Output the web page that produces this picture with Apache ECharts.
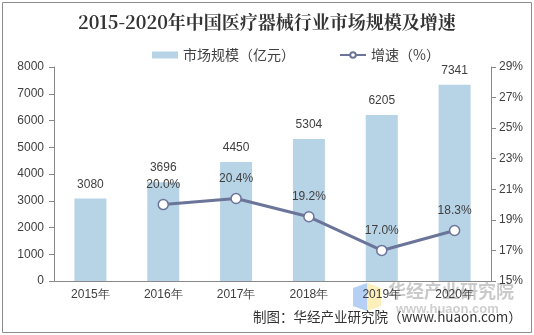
<!DOCTYPE html>
<html><head><meta charset="utf-8">
<script src="https://cdn.jsdelivr.net/npm/echarts@6/dist/echarts.min.js"></script>
<style>html,body{margin:0;padding:0;background:#fff}#c{width:534px;height:335px}</style>
</head><body><div id="c"></div>
<script>
var categories = ['2015年','2016年','2017年','2018年','2019年','2020年'];
var marketSize = [3080, 3696, 4450, 5304, 6205, 7341];
var growth = [null, 20.0, 20.4, 19.2, 17.0, 18.3];
var titleText = '2015-2020年中国医疗器械行业市场规模及增速';
var sourceText = '制图：华经产业研究院（www.huaon.com）';

var chart = echarts.init(document.getElementById('c'));
var axisColor = '#898989';
var txt = '#404040';
var numFont = 'Liberation Sans, Arial, sans-serif';
chart.setOption({
  animation: false,
  title: {text: titleText, left: 73, top: 8,
    textStyle: {fontFamily: '"Noto Serif CJK SC","Noto Sans CJK SC",serif', fontWeight: 'bold', fontSize: 18, color: '#333'}},
  legend: {top: 43, left: 147, itemGap: 44, itemWidth: 26, itemHeight: 7,
    textStyle: {fontFamily: '"Noto Sans CJK SC",sans-serif', fontSize: 14, color: txt},
    data: [{name: '市场规模（亿元）', icon: 'rect'}, {name: '增速（%）'}]},
  grid: {left: 54, right: 43, top: 67, bottom: 54},
  xAxis: {type: 'category', data: categories,
    axisLine: {lineStyle: {color: axisColor}}, axisTick: {lineStyle: {color: axisColor}},
    axisLabel: {color: txt, fontSize: 12, fontFamily: numFont, margin: 8}},
  yAxis: [
    {type: 'value', min: 0, max: 8000, interval: 1000, splitLine: {show: false},
     axisLine: {show: true, lineStyle: {color: axisColor}}, axisTick: {show: true, lineStyle: {color: axisColor}},
     axisLabel: {color: txt, fontSize: 12, fontFamily: numFont, margin: 10, formatter: function(v){return String(v);}}},
    {type: 'value', min: 15, max: 29, interval: 2, splitLine: {show: false},
     axisLine: {show: true, lineStyle: {color: axisColor}}, axisTick: {show: true, lineStyle: {color: axisColor}},
     axisLabel: {color: txt, fontSize: 12, fontFamily: numFont, formatter: '{value}%', margin: 8}}
  ],
  series: [
    {name: '市场规模（亿元）', type: 'bar', data: marketSize, barWidth: 32,
     itemStyle: {color: '#B7D3E6'},
     label: {show: true, position: 'top', distance: 8, color: txt, fontSize: 12, fontFamily: numFont}},
    {name: '增速（%）', type: 'line', yAxisIndex: 1, data: growth,
     symbol: 'circle', symbolSize: 10, showSymbol: true,
     lineStyle: {color: '#6B7499', width: 3},
     itemStyle: {color: '#fff', borderColor: '#6B7499', borderWidth: 1.5},
     label: {show: true, position: 'top', distance: 8, color: txt, fontSize: 12, fontFamily: numFont,
       formatter: function(p){return p.value.toFixed(1) + '%';}}}
  ],
  graphic: [
    {type: 'rect', shape: {x: 2.5, y: 2.5, width: 529, height: 330}, style: {fill: 'none', stroke: '#8c8c8c', lineWidth: 1}, silent: true},
    {type: 'polygon', shape: {points: [[353,288],[367,283],[367,311],[353,306]]}, style: {fill: 'rgba(120,170,235,0.55)'}, silent: true},
    {type: 'polygon', shape: {points: [[367,283],[381,288],[381,306],[367,311]]}, style: {fill: 'rgba(250,225,130,0.55)'}, silent: true},
    {type: 'text', left: 388, top: 282, style: {text: '华经产业研究院', fill: 'rgba(150,150,150,0.5)', font: 'bold 18px "Noto Sans CJK SC", sans-serif'}, silent: true},
    {type: 'text', left: 396, top: 303, style: {text: 'www.huaon.com', fill: 'rgba(160,160,160,0.5)', font: 'bold 13px "Liberation Sans", sans-serif'}, silent: true},
    {type: 'text', left: 253, top: 310, style: {text: sourceText, fill: '#333', font: '13.5px "Noto Sans CJK SC", sans-serif'}, silent: true}
  ]
});
</script></body></html>
